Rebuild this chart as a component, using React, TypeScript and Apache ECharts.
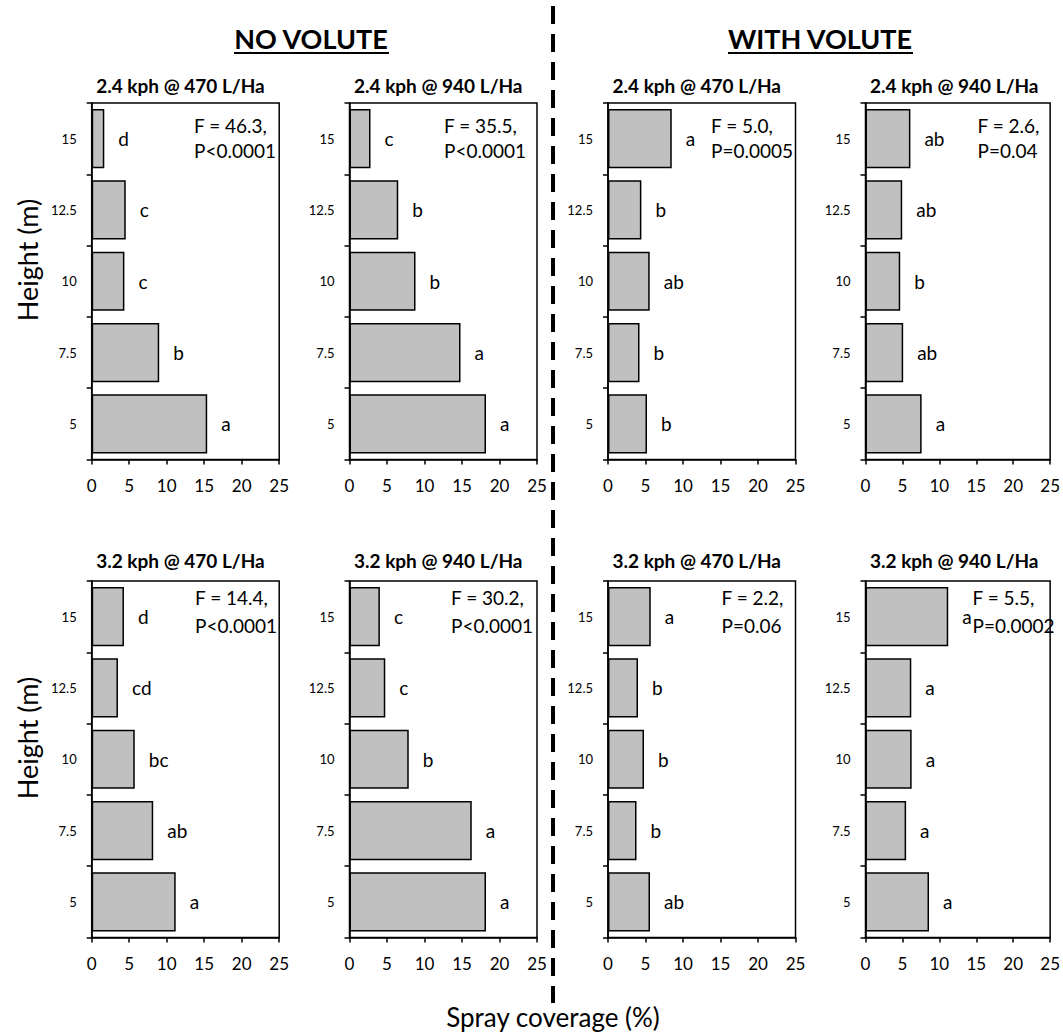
import React, { useEffect, useRef } from "react";
import * as echarts from "echarts";

const heights = ["5", "7.5", "10", "12.5", "15"];
const xTicks = [0, 5, 10, 15, 20, 25];

const panelTitles = [
  "2.4 kph @ 470 L/Ha",
  "2.4 kph @ 940 L/Ha",
  "2.4 kph @ 470 L/Ha",
  "2.4 kph @ 940 L/Ha",
  "3.2 kph @ 470 L/Ha",
  "3.2 kph @ 940 L/Ha",
  "3.2 kph @ 470 L/Ha",
  "3.2 kph @ 940 L/Ha",
];

// values ordered as heights: 5, 7.5, 10, 12.5, 15
const noVolute24_470 = [15.4, 9.0, 4.36, 4.54, 1.68];
const noVolute24_940 = [18.2, 14.8, 8.8, 6.5, 2.8];
const withVolute24_470 = [5.2, 4.2, 5.56, 4.45, 8.5];
const withVolute24_940 = [7.6, 5.1, 4.7, 4.97, 6.08];
const noVolute32_470 = [11.2, 8.2, 5.74, 3.5, 4.3];
const noVolute32_940 = [18.2, 16.3, 7.9, 4.77, 4.05];
const withVolute32_470 = [5.6, 3.8, 4.8, 4.0, 5.7];
const withVolute32_940 = [8.6, 5.5, 6.25, 6.2, 11.2];

const letters24_470_no = ["a", "b", "c", "c", "d"];
const letters24_940_no = ["a", "a", "b", "b", "c"];
const letters24_470_with = ["b", "b", "ab", "b", "a"];
const letters24_940_with = ["a", "ab", "b", "ab", "ab"];
const letters32_470_no = ["a", "ab", "bc", "cd", "d"];
const letters32_940_no = ["a", "a", "b", "c", "c"];
const letters32_470_with = ["ab", "b", "b", "b", "a"];
const letters32_940_with = ["a", "a", "a", "a", "a"];

const fStats = ["F = 46.3,", "F = 35.5,", "F = 5.0,", "F = 2.6,", "F = 14.4,", "F = 30.2,", "F = 2.2,", "F = 5.5,"];
const pStats = ["P<0.0001", "P<0.0001", "P=0.0005", "P=0.04", "P<0.0001", "P<0.0001", "P=0.06", "P=0.0002"];

const panelValues = [
  noVolute24_470, noVolute24_940, withVolute24_470, withVolute24_940,
  noVolute32_470, noVolute32_940, withVolute32_470, withVolute32_940,
];
const panelLetters = [
  letters24_470_no, letters24_940_no, letters24_470_with, letters24_940_with,
  letters32_470_no, letters32_940_no, letters32_470_with, letters32_940_with,
];

const FONT = "Lato";
const colLefts = [91.7, 349.5, 608, 865.5];
const plotW = 187.5;
const rowTops = [103, 581];
const plotH = 356.5;
const fLeft = [194, 444, 711, 977.5, 195, 451, 721.5, 972.5];
const fY = [125, 597];
const pY = [150, 625];

export default function App() {
  const ref = useRef<HTMLDivElement>(null);
  useEffect(() => {
    if (!ref.current) return;
    const chart = echarts.init(ref.current, undefined, { renderer: "svg" });
    const grids: any[] = [];
    const xAxes: any[] = [];
    const yAxes: any[] = [];
    const series: any[] = [];
    const graphics: any[] = [];
    for (let i = 0; i < 8; i++) {
      const r = Math.floor(i / 4);
      const c = i % 4;
      const left = colLefts[c];
      const top = rowTops[r];
      grids.push({
        left,
        top,
        width: plotW,
        height: plotH,
        show: true,
        borderColor: "#000",
        borderWidth: 1.5,
        backgroundColor: "transparent",
      });
      xAxes.push({
        type: "value",
        gridIndex: i,
        min: 0,
        max: xTicks[xTicks.length - 1],
        interval: 5,
        axisLine: { show: true, lineStyle: { color: "#000", width: 1.5 } },
        axisTick: { show: true, length: 5, lineStyle: { color: "#000", width: 1.5 } },
        axisLabel: { color: "#000", fontSize: 17, fontFamily: FONT, margin: 17 },
        splitLine: { show: false },
      });
      yAxes.push({
        type: "category",
        gridIndex: i,
        data: heights,
        axisLine: { show: true, lineStyle: { color: "#000", width: 1.5 } },
        axisTick: { show: true, length: 5, lineStyle: { color: "#000", width: 1.5 } },
        axisLabel: { color: "#000", fontSize: 13, fontFamily: FONT, margin: 15 },
      });
      const letters = panelLetters[i];
      series.push({
        type: "bar",
        xAxisIndex: i,
        yAxisIndex: i,
        data: panelValues[i],
        barWidth: "83%",
        itemStyle: { color: "#c0c0c0", borderColor: "#000", borderWidth: 1.5 },
        label: {
          show: true,
          position: "right",
          distance: 14,
          color: "#000",
          fontSize: 19,
          fontFamily: FONT,
          formatter: (p: any) => letters[p.dataIndex],
        },
      });
      graphics.push({
        type: "text",
        x: left + plotW / 2 - 5,
        y: r === 0 ? 85 : 560,
        style: {
          text: panelTitles[i],
          fontSize: 19,
          fontWeight: "bold",
          fontFamily: FONT,
          fill: "#000",
          align: "center",
          verticalAlign: "middle",
        },
      });
      graphics.push({
        type: "text",
        x: fLeft[i],
        y: fY[r],
        style: { text: fStats[i], fontSize: 19, fontFamily: FONT, fill: "#000", align: "left", verticalAlign: "middle" },
      });
      graphics.push({
        type: "text",
        x: fLeft[i],
        y: pY[r],
        style: { text: pStats[i], fontSize: 19, fontFamily: FONT, fill: "#000", align: "left", verticalAlign: "middle" },
      });
    }
    // headings
    graphics.push({
      type: "text",
      x: 311,
      y: 38,
      style: { text: "NO VOLUTE", fontSize: 27, fontWeight: "bold", fontFamily: FONT, fill: "#000", align: "center", verticalAlign: "middle" },
    });
    graphics.push({ type: "line", shape: { x1: 234, y1: 53, x2: 389, y2: 53 }, style: { stroke: "#000", lineWidth: 2 } });
    graphics.push({
      type: "text",
      x: 820,
      y: 38,
      style: { text: "WITH VOLUTE", fontSize: 27, fontWeight: "bold", fontFamily: FONT, fill: "#000", align: "center", verticalAlign: "middle" },
    });
    graphics.push({ type: "line", shape: { x1: 728, y1: 53, x2: 913, y2: 53 }, style: { stroke: "#000", lineWidth: 2 } });
    // divider
    graphics.push({
      type: "line",
      shape: { x1: 553, y1: 6, x2: 553, y2: 1003 },
      style: { stroke: "#000", lineWidth: 4, lineDash: [18, 10] },
    });
    // axis titles
    graphics.push({
      type: "text",
      x: 553,
      y: 1017,
      style: { text: "Spray coverage (%)", fontSize: 26, fontFamily: FONT, fill: "#000", align: "center", verticalAlign: "middle" },
    });
    for (let r = 0; r < 2; r++) {
      graphics.push({
        type: "text",
        x: 27,
        y: rowTops[r] + 157,
        rotation: Math.PI / 2,
        style: { text: "Height (m)", fontSize: 27, fontFamily: FONT, fill: "#000", align: "center", verticalAlign: "middle" },
      });
    }
    chart.setOption({
      animation: false,
      backgroundColor: "#fff",
      grid: grids,
      xAxis: xAxes,
      yAxis: yAxes,
      series,
      graphic: graphics,
    });
    return () => chart.dispose();
  }, []);
  return (
    <div
      ref={ref}
      style={{ position: "absolute", left: 0, top: 0, width: 1063, height: 1035 }}
    />
  );
}
